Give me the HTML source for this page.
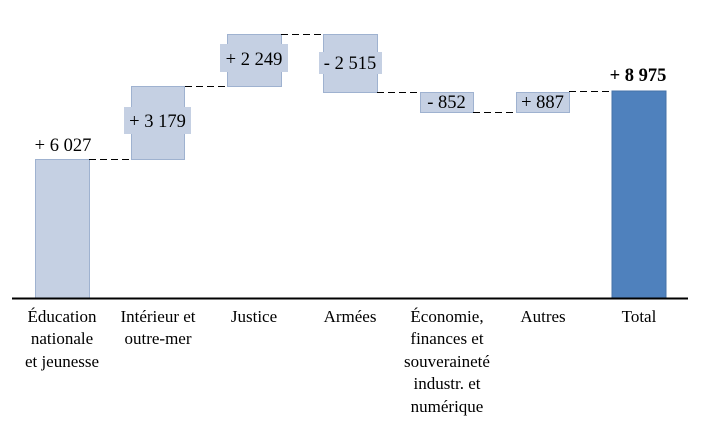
<!DOCTYPE html>
<html><head><meta charset="utf-8"><style>
html,body{margin:0;padding:0;background:#fff;}
svg{display:block;}
text{font-family:"Liberation Serif",serif;font-size:17px;fill:#000;}
.v{font-size:18.5px;}
</style></head><body>
<svg width="701" height="429" viewBox="0 0 701 429" xmlns="http://www.w3.org/2000/svg">
<g fill="#c5d0e3" stroke="#9fb2d0" stroke-width="1">
<rect x="35.5" y="159.5" width="54" height="139"/>
<rect x="131.5" y="86.5" width="53" height="73"/>
<rect x="227.5" y="34.5" width="54" height="52"/>
<rect x="323.5" y="34.5" width="54" height="58"/>
<rect x="420.5" y="92.5" width="53" height="20"/>
<rect x="516.5" y="92.5" width="53" height="20"/>
</g>
<rect x="612" y="91" width="54" height="207" fill="#4f81bd" stroke="#4472a8" stroke-width="1"/>
<g stroke="#000" stroke-width="1" stroke-dasharray="7,4" fill="none">
<line x1="89" y1="159.5" x2="131" y2="159.5"/>
<line x1="185" y1="86.5" x2="227" y2="86.5"/>
<line x1="281" y1="34.5" x2="323" y2="34.5"/>
<line x1="377" y1="92.5" x2="420" y2="92.5"/>
<line x1="473" y1="112.5" x2="516" y2="112.5"/>
<line x1="569" y1="91.5" x2="612" y2="91.5"/>
</g>
<g fill="#c5d0e3">
<rect x="124" y="107" width="67" height="27"/>
<rect x="220" y="44" width="68" height="28"/>
<rect x="319" y="52" width="63" height="22"/>
</g>
<line x1="12" y1="298.5" x2="688" y2="298.5" stroke="#000" stroke-width="2"/>
<g text-anchor="middle">
<text class="v" x="63" y="151">+ 6 027</text>
<text class="v" x="157.5" y="127">+ 3 179</text>
<text class="v" x="254" y="65">+ 2 249</text>
<text class="v" x="350" y="69">- 2 515</text>
<text class="v" x="446.5" y="108">- 852</text>
<text class="v" x="542.5" y="108">+ 887</text>
<text class="v" x="638" y="81" font-weight="bold">+ 8 975</text>
<text x="62" y="322">Éducation</text>
<text x="62" y="344">nationale</text>
<text x="62" y="367">et jeunesse</text>
<text x="158" y="322">Intérieur et</text>
<text x="158" y="344">outre-mer</text>
<text x="254" y="322">Justice</text>
<text x="350" y="322">Armées</text>
<text x="447" y="322">Économie,</text>
<text x="447" y="344">finances et</text>
<text x="447" y="367">souveraineté</text>
<text x="447" y="389">industr. et</text>
<text x="447" y="412">numérique</text>
<text x="543" y="322">Autres</text>
<text x="639" y="322">Total</text>
</g>
</svg>
</body></html>
